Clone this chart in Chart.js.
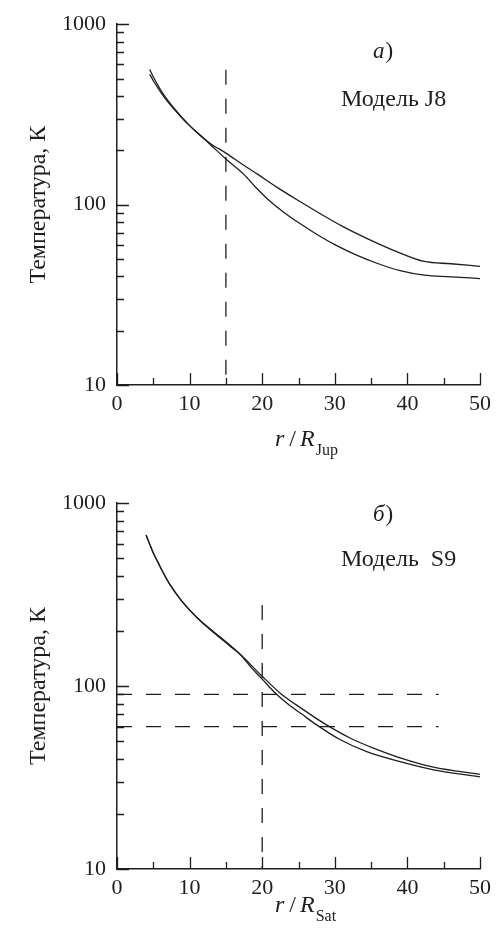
<!DOCTYPE html>
<html>
<head>
<meta charset="utf-8">
<title>Температура</title>
<script src="https://cdn.jsdelivr.net/npm/chart.js@4.4.0/dist/chart.umd.min.js"></script>
<style>
  html, body { margin: 0; padding: 0; background: #fff; }
  #wrap { position: relative; width: 497px; height: 933px; }
  canvas { position: absolute; left: 0; }
</style>
</head>
<body>
<div id="wrap">
  <canvas id="chart-j8" width="497" height="466" style="top:0"></canvas>
  <canvas id="chart-s9" width="497" height="467" style="top:466px"></canvas>
</div>
<script>
// ---- данные: модель J8 (r / R_Jup, T в K) ----
const rJ8_1 = [4.5, 5, 5.6, 6.2, 7, 8, 8.7, 10, 11, 12.8, 15, 17.4, 19, 21, 23, 25.2, 27.5, 30, 33, 36, 39, 42.3, 46, 50];
const tJ8_1 = [561, 511, 461, 420, 378, 337, 312, 274, 251, 216, 179, 148, 126, 105, 90.5, 78.5, 68.5, 60, 52.5, 47, 43, 40.6, 39.8, 38.9];
const rJ8_2 = [4.5, 5, 5.6, 6.2, 7, 8, 8.7, 10, 11, 12.8, 15, 17.2, 19.4, 22, 25.2, 28, 31, 34.4, 38, 42.3, 46, 50];
const tJ8_2 = [528, 486, 445, 409, 371, 333, 310, 274, 252, 219, 193, 168, 147, 125, 104, 89, 76, 65, 56, 48.4, 47, 45.5];
const rJ8_limit = 15;

// ---- данные: модель S9 (r / R_Sat, T в K) ----
const rS9_1 = [4, 4.5, 5, 5.6, 6.2, 7.3, 8.9, 11, 13.3, 15.5, 16.9, 20, 22.4, 25.5, 28.8, 32.3, 35.5, 39, 43.6, 50];
const tS9_1 = [668, 596, 533, 478, 428, 358, 292, 237, 198, 168, 150, 113, 92, 75, 61.5, 51.5, 45.5, 40.5, 36, 32.9];
const rS9_2 = [4, 4.5, 5, 5.6, 6.2, 7.3, 8.9, 11, 13.3, 15.5, 17, 18.5, 20, 21.5, 23.5, 25.5, 27.2, 30.7, 34.4, 39, 43.6, 50];
const tS9_2 = [668, 596, 533, 478, 428, 358, 292, 237, 196, 166, 148, 126, 109, 94, 80, 70, 62.5, 51, 43.8, 38.6, 34.8, 31.9];
const rS9_limit = 20;
const tS9_levels = [90, 60];

// ---- оси ----
const xTicks = [0, 10, 20, 30, 40, 50];
const yTicks = [10, 100, 1000];

const SERIF = "'Liberation Serif', 'Times New Roman', serif";
const INK = '#1e1e1e';

const pts = (r, t) => r.map((x, i) => ({ x: x, y: t[i] }));

function curve(r, t) {
  return {
    data: pts(r, t),
    borderColor: INK,
    borderWidth: 1.3,
    pointRadius: 0,
    fill: false,
    cubicInterpolationMode: 'monotone'
  };
}

function dashed(data) {
  return {
    data: data,
    borderColor: INK,
    borderWidth: 1.3,
    borderDash: [15, 14],
    pointRadius: 0,
    fill: false,
    tension: 0
  };
}

// внутренние засечки на осях (большие на декадах / десятках, малые между)
const innerTicks = {
  id: 'innerTicks',
  afterDraw(chart) {
    const { ctx, scales: { x, y } } = chart;
    ctx.save();
    ctx.strokeStyle = INK;
    ctx.lineWidth = 1.3;
    ctx.beginPath();
    for (let v = 0; v <= 50; v += 5) {
      const px = Math.round(x.getPixelForValue(v)) + 0.5;
      const len = v % 10 === 0 ? 12 : 7;
      ctx.moveTo(px, y.bottom);
      ctx.lineTo(px, y.bottom - len);
    }
    for (const dec of [10, 100]) {
      for (let k = 1; k <= 10; k++) {
        const py = Math.round(y.getPixelForValue(dec * k)) + 0.5;
        const len = (k === 1 || k === 10) ? 12 : 7;
        ctx.moveTo(x.left, py);
        ctx.lineTo(x.left + len, py);
      }
    }
    ctx.stroke();
    ctx.restore();
  }
};

// подписи: буква панели, название модели и r/R_xxx под осью
const panelText = {
  id: 'panelText',
  afterDraw(chart, args, o) {
    const ctx = chart.ctx;
    ctx.save();
    ctx.fillStyle = INK;
    ctx.textBaseline = 'alphabetic';
    ctx.textAlign = 'left';

    ctx.font = 'italic 23px ' + SERIF;
    ctx.fillText(o.letter, o.letterX, o.letterY);
    const w = ctx.measureText(o.letter).width;
    ctx.font = '23px ' + SERIF;
    ctx.fillText(')', o.letterX + w + 1, o.letterY);

    ctx.font = '24px ' + SERIF;
    ctx.fillText(o.model, o.modelX, o.modelY);

    let x = o.axisX;
    ctx.font = 'italic 24px ' + SERIF;
    ctx.fillText('r', x, o.axisY);
    x += ctx.measureText('r').width + 5;
    ctx.font = '24px ' + SERIF;
    ctx.fillText('/', x, o.axisY);
    x += ctx.measureText('/').width + 4;
    ctx.font = 'italic 24px ' + SERIF;
    ctx.fillText('R', x, o.axisY);
    x += ctx.measureText('R').width + 1;
    ctx.font = '16px ' + SERIF;
    ctx.fillText(o.sub, x, o.axisY + 9);
    ctx.restore();
  }
};

function makeChart(id, datasets, p) {
  return new Chart(document.getElementById(id), {
    type: 'line',
    data: { datasets: datasets },
    plugins: [innerTicks, panelText],
    options: {
      responsive: false,
      animation: false,
      events: [],
      layout: { padding: { left: 0, right: 497 - p.right, top: p.top, bottom: 0 } },
      plugins: {
        legend: { display: false },
        tooltip: { enabled: false },
        panelText: p.text
      },
      scales: {
        x: {
          type: 'linear',
          min: 0,
          max: 50,
          afterBuildTicks: s => { s.ticks = xTicks.map(v => ({ value: v })); },
          afterFit: s => { s.height = p.xHeight; },
          ticks: {
            color: INK,
            padding: 6,
            maxRotation: 0,
            font: { family: SERIF, size: 22 }
          },
          grid: { display: true, drawOnChartArea: false, drawTicks: false, color: INK },
          border: { display: true, color: INK, width: 1.5 }
        },
        y: {
          type: 'logarithmic',
          min: 10,
          max: 1000,
          afterBuildTicks: s => { s.ticks = yTicks.map(v => ({ value: v })); },
          afterFit: s => { s.width = p.left; },
          ticks: {
            color: INK,
            padding: 11,
            callback: v => String(v),
            font: { family: SERIF, size: 22 }
          },
          grid: { display: true, drawOnChartArea: false, drawTicks: false, color: INK },
          border: { display: true, color: INK, width: 1.5 },
          title: {
            display: true,
            text: 'Температура, К',
            color: INK,
            padding: { top: 24, bottom: 0 },
            font: { family: SERIF, size: 24 }
          }
        }
      }
    }
  });
}

makeChart('chart-j8', [
  curve(rJ8_1, tJ8_1),
  curve(rJ8_2, tJ8_2),
  dashed([{ x: rJ8_limit, y: 560 }, { x: rJ8_limit, y: 10 }])
], {
  left: 117, right: 481, top: 19, xHeight: 81,
  text: {
    letter: 'a', letterX: 373, letterY: 58,
    model: 'Модель J8', modelX: 341, modelY: 106,
    sub: 'Jup', axisX: 275, axisY: 446
  }
});

makeChart('chart-s9', [
  curve(rS9_1, tS9_1),
  curve(rS9_2, tS9_2),
  dashed([{ x: rS9_limit, y: 277 }, { x: rS9_limit, y: 10 }]),
  dashed([{ x: 0, y: tS9_levels[0] }, { x: 44.3, y: tS9_levels[0] }]),
  dashed([{ x: 0, y: tS9_levels[1] }, { x: 44.3, y: tS9_levels[1] }])
], {
  left: 117, right: 481, top: 37, xHeight: 64,
  text: {
    letter: 'б', letterX: 373, letterY: 55,
    model: 'Модель  S9', modelX: 341, modelY: 100,
    sub: 'Sat', axisX: 275, axisY: 446
  }
});
</script>
</body>
</html>
